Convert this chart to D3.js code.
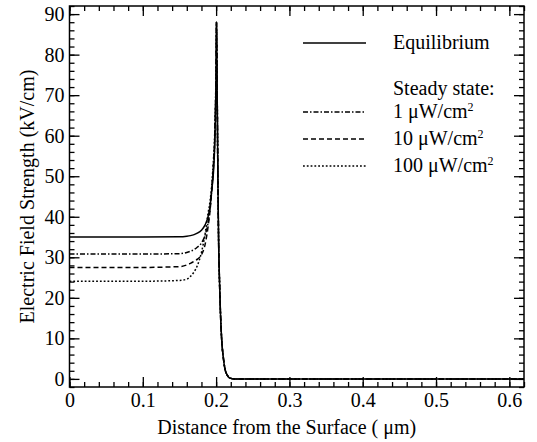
<!DOCTYPE html>
<html><head><meta charset="utf-8">
<script src="https://cdn.jsdelivr.net/npm/d3@7"></script>
<style>body{margin:0;background:#fff}svg{display:block}text{font-family:"Liberation Serif","Times New Roman",serif;fill:#000}</style>
</head><body>
<svg id="c" width="537" height="442"></svg>
<script>
// Data
const xs = [0,0.05,0.1,0.15,0.16,0.165,0.17,0.175,0.18,0.185,0.189,0.192,0.194,0.196,0.198,0.199,0.2,0.2005,
            0.2015,0.2025,0.2035,0.2045,0.206,0.2075,0.21,0.212,0.215,0.219,0.225,0.3,0.4,0.5,0.62];
const fall = [70,48,33,25,16,10,5,2.5,1,0.2,0,0,0,0,0];
const equilibrium = [35,35,35,35.05,35.2,35.35,35.6,36.0,36.7,38.0,40,43,46.5,50,57,64,76,88].concat(fall);
const ss1 = [30.8,30.8,30.8,30.9,31.2,31.5,31.9,32.6,33.5,35.5,38.5,42.5,46.5,51,58,65,76,88].concat(fall);
const ss10 = [27.5,27.5,27.5,27.7,28.1,28.5,29.0,29.6,30.6,33.2,37.5,42,46.5,52,59,66,77,88].concat(fall);
const ss100 = [24.1,24.1,24.1,24.3,24.6,25.3,26.4,28.2,31.2,35.8,40.8,44.3,47.8,53,60,67,78,88].concat(fall);
const xTicks = [0,0.1,0.2,0.3,0.4,0.5,0.6];
const xTickLabels = ["0","0.1","0.2","0.3","0.4","0.5","0.6"];
const yTicks = [0,10,20,30,40,50,60,70,80,90];
const xMinor = d3.range(0,0.621,0.02);
const yMinor = d3.range(-2,92.1,2);

const W=537,H=442, m={l:69.5,t:6,r:13,b:55};
const svg=d3.select("#c");
const x=d3.scaleLinear().domain([0,0.62]).range([m.l,W-m.r]);
const y=d3.scaleLinear().domain([-2,92]).range([H-m.b,m.t]);

const series=[
  {v:equilibrium,dash:null},
  {v:ss1,dash:"5,2,1.5,2"},
  {v:ss10,dash:"5,3"},
  {v:ss100,dash:"1.8,2"}
];
const line=d3.line().x(d=>x(d[0])).y(d=>y(d[1])).curve(d3.curveMonotoneX);
series.forEach(s=>{
  svg.append("path").datum(xs.map((xv,i)=>[xv,s.v[i]]))
    .attr("d",line).attr("fill","none").attr("stroke","#000")
    .attr("stroke-width",1.5).attr("stroke-dasharray",s.dash);
});

// axes with inner ticks on all four sides
const g=svg.append("g");
function ax(axisFn,scale,ticks,len,transform,fmt){
  const a=axisFn(scale).tickValues(ticks).tickSizeInner(-len).tickSizeOuter(0).tickPadding(len+6);
  a.tickFormat(fmt || (()=>""));
  const gg=g.append("g").attr("transform",transform).call(a);
  gg.select(".domain").remove();
  gg.selectAll("line").attr("stroke","#000").attr("stroke-width",1.3);
  gg.selectAll("text").attr("font-size",20).attr("font-family","Liberation Serif");
  return gg;
}
const bx=`translate(0,${H-m.b})`, tx=`translate(0,${m.t})`, ly=`translate(${m.l},0)`, ry=`translate(${W-m.r},0)`;
ax(d3.axisBottom,x,xTicks,10,bx,(d,i)=>xTickLabels[i]).selectAll("text").attr("dy","0.72em").attr("y",6);
ax(d3.axisBottom,x,xMinor,5,bx,null);
ax(d3.axisTop,x,xTicks,10,tx,null);
ax(d3.axisTop,x,xMinor,5,tx,null);
ax(d3.axisLeft,y,yTicks,10,ly,d3.format("d")).selectAll("text").attr("x",-5);
ax(d3.axisLeft,y,yMinor,5,ly,null);
ax(d3.axisRight,y,yTicks,10,ry,null);
ax(d3.axisRight,y,yMinor,5,ry,null);

svg.append("rect").attr("x",m.l).attr("y",m.t).attr("width",W-m.l-m.r).attr("height",H-m.t-m.b)
  .attr("fill","none").attr("stroke","#000").attr("stroke-width",1.5);

// axis titles
svg.append("text").attr("x",(m.l+W-m.r)/2 - 10).attr("y",434).attr("text-anchor","middle").attr("font-size",20)
  .text("Distance from the Surface ( μm)");
svg.append("text").attr("transform",`translate(34,${(m.t+H-m.b)/2}) rotate(-90)`).attr("text-anchor","middle").attr("font-size",20)
  .text("Electric Field Strength (kV/cm)");

// legend
const lx1=303,lx2=366,tx0=393;
const leg=[
  {y:43,dash:null,label:"Equilibrium",sup:false},
  {y:112,dash:"5,2,1.5,2",label:"1 μW/cm",sup:true},
  {y:139,dash:"5,3",label:"10 μW/cm",sup:true},
  {y:166,dash:"1.8,2",label:"100 μW/cm",sup:true}
];
leg.forEach(d=>{
  svg.append("line").attr("x1",lx1).attr("x2",lx2).attr("y1",d.y).attr("y2",d.y)
    .attr("stroke","#000").attr("stroke-width",1.4).attr("stroke-dasharray",d.dash);
  const t=svg.append("text").attr("x",tx0).attr("y",d.y+6).attr("font-size",20).text(d.label);
  if(d.sup) t.append("tspan").attr("font-size",12).attr("dy",-7).text("2");
});
svg.append("text").attr("x",tx0).attr("y",95).attr("font-size",20).text("Steady state:");
</script>
</body></html>
